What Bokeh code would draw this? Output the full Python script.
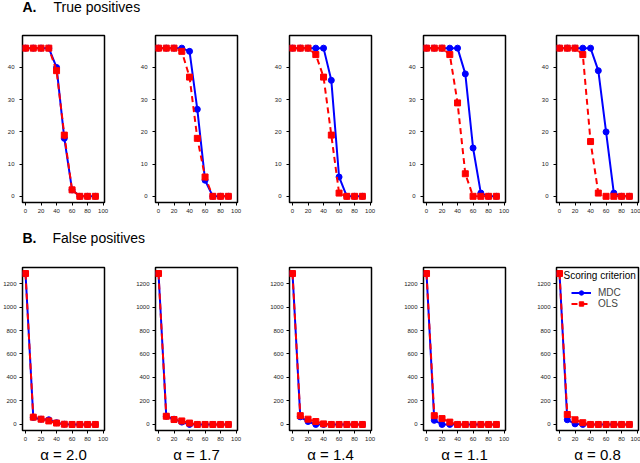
from bokeh.plotting import figure
from bokeh.layouts import column, row
from bokeh.models import Range1d, Label, FixedTicker
from bokeh.embed import file_html
from bokeh.resources import INLINE

FONT = "Liberation Sans"

# ---------------- data ----------------
pct_removed = [0, 10, 20, 30, 40, 50, 60, 70, 80, 90]
alpha_values = ["2.0", "1.7", "1.4", "1.1", "0.8"]
x_ticks = [0, 20, 40, 60, 80, 100]
tp_y_ticks = [0, 10, 20, 30, 40]
fp_y_ticks = [0, 200, 400, 600, 800, 1000, 1200]

# True positives
tp_mdc_20 = [46, 46, 46, 46, 40, 18, 2, 0, 0, 0]
tp_ols_20 = [46, 46, 46, 46, 39, 19, 2, 0, 0, 0]
tp_mdc_17 = [46, 46, 46, 46, 45, 27, 5, 0, 0, 0]
tp_ols_17 = [46, 46, 46, 45, 37, 18, 6, 0, 0, 0]
tp_mdc_14 = [46, 46, 46, 46, 46, 36, 6, 0, 0, 0]
tp_ols_14 = [46, 46, 46, 44, 37, 19, 1, 0, 0, 0]
tp_mdc_11 = [46, 46, 46, 46, 46, 38, 15, 1, 0, 0]
tp_ols_11 = [46, 46, 46, 44, 29, 7, 0, 0, 0, 0]
tp_mdc_08 = [46, 46, 46, 46, 46, 39, 20, 1, 0, 0]
tp_ols_08 = [46, 46, 46, 44, 17, 1, 0, 0, 0, 0]

# False positives
fp_mdc_20 = [1285, 60, 45, 40, 15, 2, 0, 0, 0, 0]
fp_ols_20 = [1285, 62, 45, 30, 12, 2, 0, 0, 0, 0]
fp_mdc_17 = [1285, 70, 45, 20, 0, 0, 0, 0, 0, 0]
fp_ols_17 = [1285, 70, 42, 30, 12, 0, 0, 0, 0, 0]
fp_mdc_14 = [1285, 65, 25, 0, 0, 0, 0, 0, 0, 0]
fp_ols_14 = [1285, 75, 45, 25, 5, 0, 0, 0, 0, 0]
fp_mdc_11 = [1285, 35, 0, 0, 0, 0, 0, 0, 0, 0]
fp_ols_11 = [1285, 75, 50, 20, 0, 0, 0, 0, 0, 0]
fp_mdc_08 = [1285, 40, 5, 0, 0, 0, 0, 0, 0, 0]
fp_ols_08 = [1285, 85, 40, 15, 0, 0, 0, 0, 0, 0]

tp_series = [(tp_mdc_20, tp_ols_20), (tp_mdc_17, tp_ols_17), (tp_mdc_14, tp_ols_14),
             (tp_mdc_11, tp_ols_11), (tp_mdc_08, tp_ols_08)]
fp_series = [(fp_mdc_20, fp_ols_20), (fp_mdc_17, fp_ols_17), (fp_mdc_14, fp_ols_14),
             (fp_mdc_11, fp_ols_11), (fp_mdc_08, fp_ols_08)]

BLUE = "#0000FF"
RED = "#FF0000"
XR = (-3.9, 101.8)
FRAME_W = 82
RIGHT_BORDERS = [29, 30, 30, 29, 2]


def make_panel(mdc, ols, yr, yticks, fh, top, bottom, right, ystandoff,
               alpha_label=None, legend=False):
    p = figure(frame_width=FRAME_W, frame_height=fh,
               x_range=Range1d(*XR), y_range=Range1d(*yr),
               output_backend="svg", toolbar_location=None,
               min_border_left=22, min_border_right=right,
               min_border_top=top, min_border_bottom=bottom)
    p.grid.visible = False
    p.outline_line_color = "black"
    p.outline_line_width = 1.5
    p.outline_line_alpha = 1
    for ax in (p.xaxis[0], p.yaxis[0]):
        ax.major_tick_out = 3
        ax.major_tick_in = 0
        ax.minor_tick_line_color = None
        ax.major_label_text_font_size = "6px"
        ax.major_label_text_font = FONT
        ax.major_label_text_color = "#222222"
        ax.axis_line_color = "black"
        ax.major_tick_line_color = "black"
    p.yaxis.major_label_standoff = ystandoff
    p.xaxis.major_label_standoff = 3
    p.xaxis.ticker = FixedTicker(ticks=x_ticks)
    p.xaxis.bounds = (x_ticks[0], x_ticks[-1])
    p.yaxis.ticker = FixedTicker(ticks=yticks)
    p.yaxis.bounds = (yticks[0], yticks[-1])

    km = dict(legend_label="MDC") if legend else {}
    ko = dict(legend_label="OLS") if legend else {}
    p.line(pct_removed, mdc, line_color=BLUE, line_width=2, **km)
    p.scatter(pct_removed, mdc, marker="circle", size=6, fill_color=BLUE, line_color=BLUE, **km)
    p.line(pct_removed, ols, line_color=RED, line_width=2, line_dash="6 4", **ko)
    p.scatter(pct_removed, ols, marker="square", size=6, fill_color=RED, line_color=RED, **ko)

    if alpha_label is not None:
        p.xaxis.axis_label = alpha_label
        p.xaxis.axis_label_text_font = FONT
        p.xaxis.axis_label_text_font_size = "15px"
        p.xaxis.axis_label_text_font_style = "normal"
        p.xaxis.axis_label_text_color = "black"
        p.xaxis.axis_label_standoff = 2

    if legend:
        # legend title placed as a label, items indented below it
        px_x = (XR[1] - XR[0]) / FRAME_W
        px_y = (yr[1] - yr[0]) / fh
        p.add_layout(Label(x=XR[0] + 7 * px_x, y=yr[1] - 8 * px_y, text="Scoring criterion",
                           text_font=FONT, text_font_size="10px", text_baseline="middle",
                           text_color="black"))
        lg = p.legend[0]
        lg.location = (15, fh - 16 - 26)
        lg.label_text_font = FONT
        lg.label_text_font_size = "10px"
        lg.border_line_color = None
        lg.background_fill_alpha = 0
        lg.margin = 0
        lg.padding = 2
        lg.spacing = 0
        lg.glyph_width = 20
        lg.glyph_height = 11
        lg.label_height = 11
        lg.label_standoff = 7
    return p


def make_strip(height, letter, text, text_x, y):
    s = figure(frame_width=640, frame_height=height,
               x_range=Range1d(0, 640), y_range=Range1d(0, height),
               output_backend="svg", toolbar_location=None,
               x_axis_location=None, y_axis_location=None,
               min_border=0, min_border_left=0, min_border_right=0,
               min_border_top=0, min_border_bottom=0)
    s.grid.visible = False
    s.outline_line_color = None
    s.add_layout(Label(x=22, y=y, text=letter, text_font=FONT, text_font_size="14px",
                       text_font_style="bold", text_baseline="middle", text_color="black"))
    s.add_layout(Label(x=text_x, y=y, text=text, text_font=FONT, text_font_size="14px",
                       text_baseline="middle", text_color="black"))
    return s


tp_range = (-1.92, 49.92)
fp_max = max(max(max(a), max(b)) for a, b in fp_series)
fp_range = (-0.04 * fp_max, 1.04 * fp_max)

top_panels = []
bottom_panels = []
for i in range(5):
    right = RIGHT_BORDERS[i]
    mdc, ols = tp_series[i]
    top_panels.append(make_panel(mdc, ols, tp_range, tp_y_ticks, fh=167, top=10, bottom=18,
                                 right=right, ystandoff=5))
    mdc, ols = fp_series[i]
    bottom_panels.append(make_panel(mdc, ols, fp_range, fp_y_ticks, fh=163, top=17, bottom=32,
                                    right=right, ystandoff=3,
                                    alpha_label="\u03b1 = " + alpha_values[i],
                                    legend=(i == 4)))

strip_a = make_strip(25, "A.", "True positives", 53, 19)
strip_b = make_strip(30, "B.", "False positives", 52, 13)

layout = column(strip_a, row(*top_panels), strip_b, row(*bottom_panels))

open("out.html", "w").write(file_html(layout, INLINE))
